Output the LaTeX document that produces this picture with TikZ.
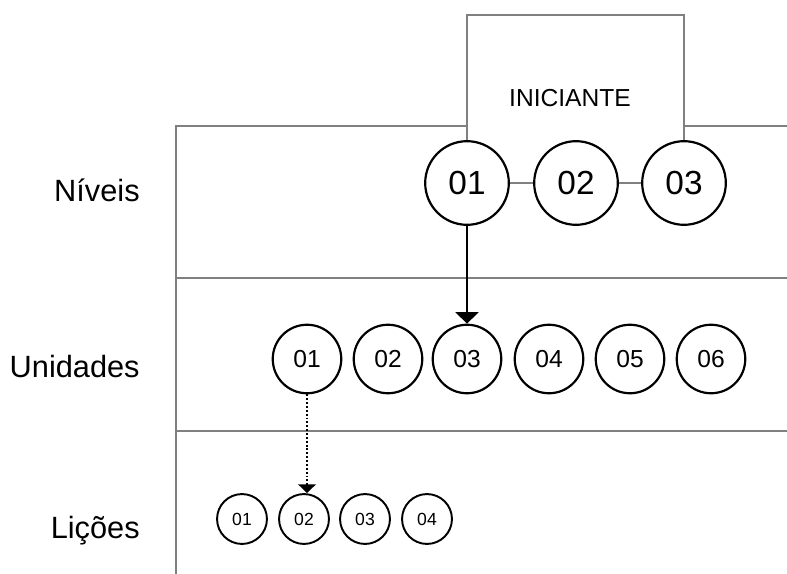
\documentclass[tikz,border=0pt]{standalone}
\usepackage{fontspec}
\setmainfont{Liberation Sans}
\usetikzlibrary{arrows.meta}

\begin{document}
\begin{tikzpicture}[x=0.02cm,y=-0.02cm,
  grid/.style={draw=black!50,line width=0.85pt},
  level/.style={circle,draw,fill=white,line width=1.25pt,inner sep=0pt,minimum size=47.6pt,font=\fontsize{19}{21}\selectfont},
  unit/.style={circle,draw,line width=1.25pt,inner sep=0pt,minimum size=39pt,font=\fontsize{14}{16}\selectfont},
  lesson/.style={circle,draw,line width=1.1pt,inner sep=0pt,minimum size=28.4pt,font=\fontsize{10}{12}\selectfont},
  rowlabel/.style={anchor=base east,inner sep=0pt,font=\fontsize{17.5}{20}\selectfont}
]
\useasboundingbox (0,0) rectangle (787,574);

% Rows
\draw[grid] (176,574) -- (176,126) -- (468,126);
\draw[grid] (684,126) -- (787,126);
\draw[grid] (176,278) -- (787,278);
\draw[grid] (176,431) -- (787,431);

\node[rowlabel] (NIV) at (140,201){Níveis};
\node[rowlabel] (UNI) at (140,377){Unidades};
\node[rowlabel] (LIC) at (140,538){Lições};

% Niveis
\node[level] (N1) at (467,183){01};
\node[level] (N2) at (576,183){02};
\node[level] (N3) at (684,183){03};
\draw[grid] (N1) -- (N2);
\draw[grid] (N2) -- (N3);
\draw[grid] (N1.north) -- ++(0,-125) coordinate(TOP) -| (N3.north);
\node[font=\fontsize{14}{16}\selectfont] (INI) at (570,98){INICIANTE};

% Unidades
\node[unit] (U1) at (307,359){01};
\node[unit] (U2) at (388,359){02};
\node[unit] (U3) at (467,359){03};
\node[unit] (U4) at (549,359){04};
\node[unit] (U5) at (630,359){05};
\node[unit] (U6) at (711,359){06};
\draw[line width=1.25pt,-{Triangle[width=13pt,length=6.5pt]}] (N1.south) -- (U3.north);

% Licoes
\node[lesson] (L1) at (242,519){01};
\node[lesson] (L2) at (304,519){02};
\node[lesson] (L3) at (365,519){03};
\node[lesson] (L4) at (427,519){04};
\draw[line width=1.1pt,dash pattern=on 1.1pt off 1.1pt,-{Triangle[width=10pt,length=5pt]}] (U1.south) -- (U1.south |- L2.north);

\end{tikzpicture}
\end{document}
